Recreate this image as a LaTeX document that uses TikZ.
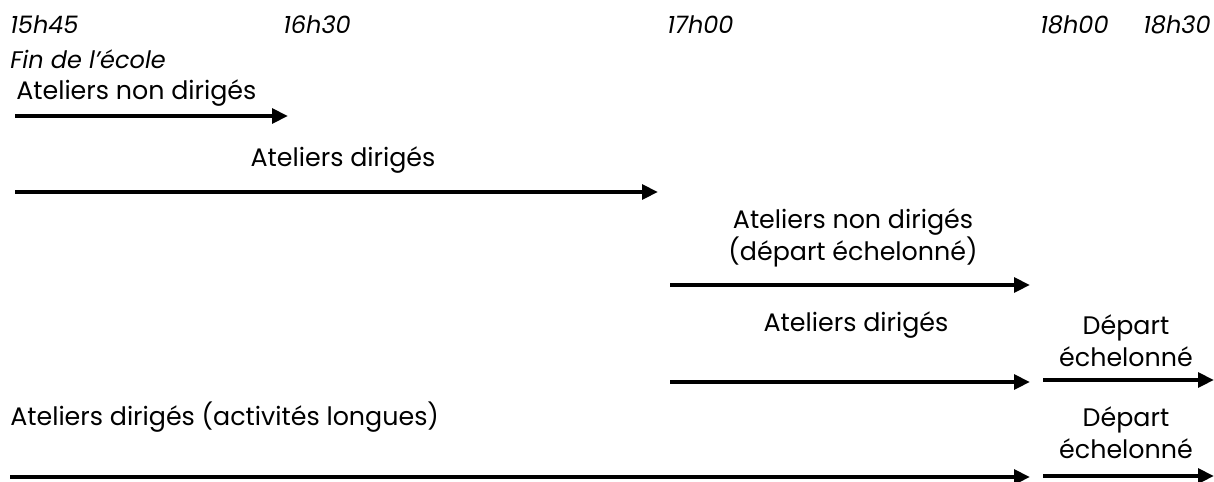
\documentclass[tikz,border=0pt]{standalone}
\usepackage{fontspec}
\setmainfont{Poppins}
\usetikzlibrary{arrows.meta}
\tikzset{
  lbl/.style={inner sep=0pt, font=\fontsize{19}{24}\selectfont, align=center},
  tim/.style={lbl, font=\fontsize{18}{24}\selectfont\itshape},
  span/.style={line width=2.8pt, -{Triangle[length=12pt,width=11pt]}}
}
\begin{document}
\begin{tikzpicture}[x=0.75pt,y=-0.75pt]
\useasboundingbox (0,0) rectangle (1214,482);
% times
\node[tim, anchor=west] (t1) at (10,25) {15h45};
\node[tim, anchor=west] (t2) at (283,25) {16h30};
\node[tim, anchor=west] (t3) at (667,25) {17h00};
\node[tim, anchor=west] (t4) at (1040,25) {18h00};
\node[tim, anchor=west] (t5) at (1143,25) {18h30};
\node[tim, anchor=west] (fin) at (10,59) {Fin de l’école};
% row 1
\node[lbl, anchor=west] (l1) at (16,93) {Ateliers non dirigés};
\coordinate (a1s) at (15,116); \coordinate (a1e) at (288,116);
\draw[span] (a1s) -- (a1e);
% row 2
\node[lbl] (l2) at (343,160) {Ateliers dirigés};
\coordinate (a2s) at (15,192); \coordinate (a2e) at (658,192);
\draw[span] (a2s) -- (a2e);
% row 3
\node[lbl] (l3) at (853,238) {Ateliers non dirigés\\(départ échelonné)};
\coordinate (a3s) at (670,285); \coordinate (a3e) at (1030,285);
\draw[span] (a3s) -- (a3e);
% row 4
\node[lbl] (l4) at (856,325) {Ateliers dirigés};
\node[lbl] (d4) at (1126,341) {Départ\\échelonné};
\coordinate (a4s) at (670,382); \coordinate (a4e) at (1030,382);
\draw[span] (a4s) -- (a4e);
\coordinate (b4s) at (1043,380); \coordinate (b4e) at (1214,380);
\draw[span] (b4s) -- (b4e);
% row 5
\node[lbl, anchor=west] (l5) at (10,417) {Ateliers dirigés (activités longues)};
\node[lbl] (d5) at (1126,433) {Départ\\échelonné};
\coordinate (a5s) at (10,477); \coordinate (a5e) at (1030,477);
\draw[span] (a5s) -- (a5e);
\coordinate (b5s) at (1043,476); \coordinate (b5e) at (1214,476);
\draw[span] (b5s) -- (b5e);
\end{tikzpicture}
\end{document}
